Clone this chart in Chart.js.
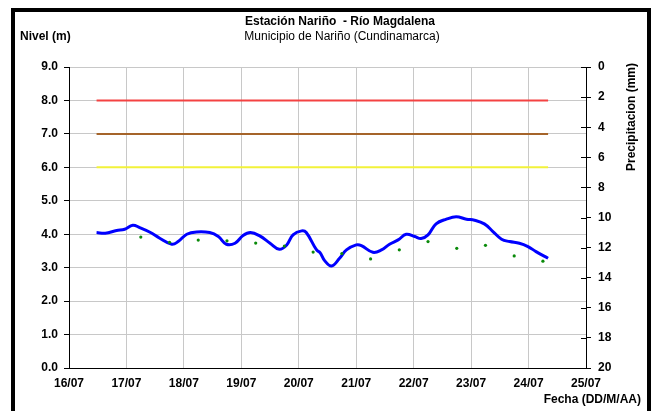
<!DOCTYPE html>
<html>
<head>
<meta charset="utf-8">
<script src="https://cdn.jsdelivr.net/npm/chart.js@4/dist/chart.umd.min.js"></script>
<style>
  body { margin: 0; background: #fff; }
  #wrap { position: relative; width: 651px; height: 411px; overflow: hidden; }
  #frame { position: absolute; left: 11px; top: 8px; width: 640px; height: 420px;
           box-sizing: border-box; border: 4px solid #000; pointer-events: none; }
</style>
</head>
<body>
<div id="wrap">
  <canvas id="myChart" width="651" height="411"></canvas>
  <div id="frame"></div>
</div>
<script>
// fechas: dias contados desde 16/07 00:00
var fechas = ['16/07', '17/07', '18/07', '19/07', '20/07', '21/07', '22/07', '23/07', '24/07', '25/07'];

// nivel del rio (m)
var nivelDias = [0.48, 0.63, 0.83, 0.97, 1.11, 1.23, 1.41, 1.58, 1.79, 1.90, 2.05, 2.22, 2.45, 2.60, 2.74, 2.89,
  3.03, 3.16, 3.32, 3.50, 3.66, 3.79, 3.90, 4.05, 4.13, 4.31, 4.37, 4.45, 4.57, 4.71, 4.83, 5.00, 5.09, 5.29,
  5.44, 5.58, 5.73, 5.87, 6.02, 6.13, 6.25, 6.39, 6.57, 6.74, 6.92, 7.06, 7.23, 7.38, 7.53, 7.67, 7.84, 7.99,
  8.13, 8.34];
var nivel = [4.05, 4.03, 4.11, 4.15, 4.27, 4.20, 4.06, 3.88, 3.70, 3.78, 4.00, 4.07, 4.05, 3.93, 3.70, 3.73,
  3.96, 4.05, 3.95, 3.73, 3.55, 3.68, 3.98, 4.10, 4.05, 3.53, 3.45, 3.21, 3.05, 3.28, 3.53, 3.68, 3.66, 3.46,
  3.53, 3.70, 3.83, 4.00, 3.93, 3.87, 3.98, 4.31, 4.45, 4.52, 4.45, 4.42, 4.31, 4.08, 3.85, 3.78, 3.73, 3.63,
  3.48, 3.28];

// precipitacion (mm)
var lluviaDias = [1.25, 1.75, 2.25, 2.75, 3.25, 3.75, 4.25, 4.75, 5.25, 5.75, 6.25, 6.75, 7.25, 7.75, 8.25];
var lluvia = [11.3, 11.65, 11.5, 11.55, 11.7, 11.9, 12.3, 12.4, 12.75, 12.15, 11.6, 12.05, 11.85, 12.55, 12.9];

// niveles de alerta
var alertaRoja = 8.0;
var alertaNaranja = 7.0;
var alertaAmarilla = 6.0;
var alertaDesde = 0.48;
var alertaHasta = 8.34;

function pares(xs, ys) {
  return xs.map(function(x, i) { return {x: x, y: ys[i]}; });
}
function recta(v) {
  return [{x: alertaDesde, y: v}, {x: alertaHasta, y: v}];
}

var textos = {
  id: 'textos',
  afterDraw: function(chart) {
    var c = chart.ctx;
    c.save();
    c.fillStyle = '#000';
    c.textBaseline = 'middle';
    c.textAlign = 'center';
    c.font = 'bold 12px "Liberation Sans", Arial, sans-serif';
    c.fillText('Estación Nariño  - Río Magdalena', 340, 22);
    c.font = '12px "Liberation Sans", Arial, sans-serif';
    c.fillText('Municipio de Nariño (Cundinamarca)', 342, 37);
    c.font = 'bold 12px "Liberation Sans", Arial, sans-serif';
    c.textAlign = 'left';
    c.fillText('Nivel (m)', 20, 37);
    c.textAlign = 'right';
    c.fillText('Fecha (DD/M/AA)', 641, 400);
    c.save();
    c.translate(632, 117);
    c.rotate(-Math.PI / 2);
    c.textAlign = 'center';
    c.fillText('Precipitacion (mm)', 0, 0);
    c.restore();
    // marcas del eje derecho hacia adentro
    var s = chart.scales.y1;
    c.strokeStyle = '#000';
    c.lineWidth = 1;
    s.ticks.forEach(function(t) {
      var py = Math.round(s.getPixelForValue(t.value)) + 0.5;
      c.beginPath();
      c.moveTo(s.left - 5, py);
      c.lineTo(s.left, py);
      c.stroke();
    });
    c.restore();
  }
};

var ctx = document.getElementById('myChart').getContext('2d');
var fuente = { family: '"Liberation Sans", Arial, sans-serif', size: 12, weight: 'bold' };

var chart = new Chart(ctx, {
  type: 'line',
  data: {
    datasets: [
      { data: recta(alertaRoja), borderColor: '#f44242', borderWidth: 2, pointRadius: 0, yAxisID: 'y' },
      { data: recta(alertaNaranja), borderColor: '#a5642a', borderWidth: 2, pointRadius: 0, yAxisID: 'y' },
      { data: recta(alertaAmarilla), borderColor: '#f2f23a', borderWidth: 2, pointRadius: 0, yAxisID: 'y' },
      {
        data: pares(lluviaDias, lluvia), yAxisID: 'y1', showLine: false,
        pointRadius: 1.6, pointBorderWidth: 0, pointBackgroundColor: '#0a8a0a'
      },
      {
        data: pares(nivelDias, nivel), yAxisID: 'y', borderColor: '#0000ff', borderWidth: 3,
        pointRadius: 0, tension: 0.4
      }
    ]
  },
  options: {
    responsive: false,
    animation: false,
    layout: { padding: { top: 67, left: 0, right: 0, bottom: 0 } },
    plugins: { legend: { display: false }, tooltip: { enabled: false } },
    scales: {
      x: {
        type: 'linear', min: 0, max: 9,
        afterBuildTicks: function(s) { s.ticks = fechas.map(function(f, i) { return {value: i}; }); },
        afterFit: function(s) { s.height = 43; },
        ticks: { color: '#000', font: fuente, padding: 8, maxRotation: 0,
                 callback: function(v) { return fechas[v]; } },
        grid: { color: '#c8c8c8', drawTicks: false },
        border: { color: '#000', width: 1 }
      },
      y: {
        position: 'left', min: 0, max: 9,
        afterFit: function(s) { s.width = 69; s.paddingTop = 0; s.paddingBottom = 0; },
        ticks: { stepSize: 1, color: '#000', font: fuente, padding: 6,
                 callback: function(v) { return v.toFixed(1); } },
        grid: { color: '#c8c8c8', tickColor: '#000', tickLength: 5 },
        border: { color: '#000', width: 1 }
      },
      y1: {
        position: 'right', min: 0, max: 20, reverse: true,
        afterFit: function(s) { s.width = 65; s.paddingTop = 0; s.paddingBottom = 0; },
        ticks: { stepSize: 2, color: '#000', font: fuente, padding: 7 },
        grid: { drawOnChartArea: false, tickColor: '#000', tickLength: 5 },
        border: { color: '#000', width: 1 }
      }
    }
  },
  plugins: [textos]
});
</script>
</body>
</html>
